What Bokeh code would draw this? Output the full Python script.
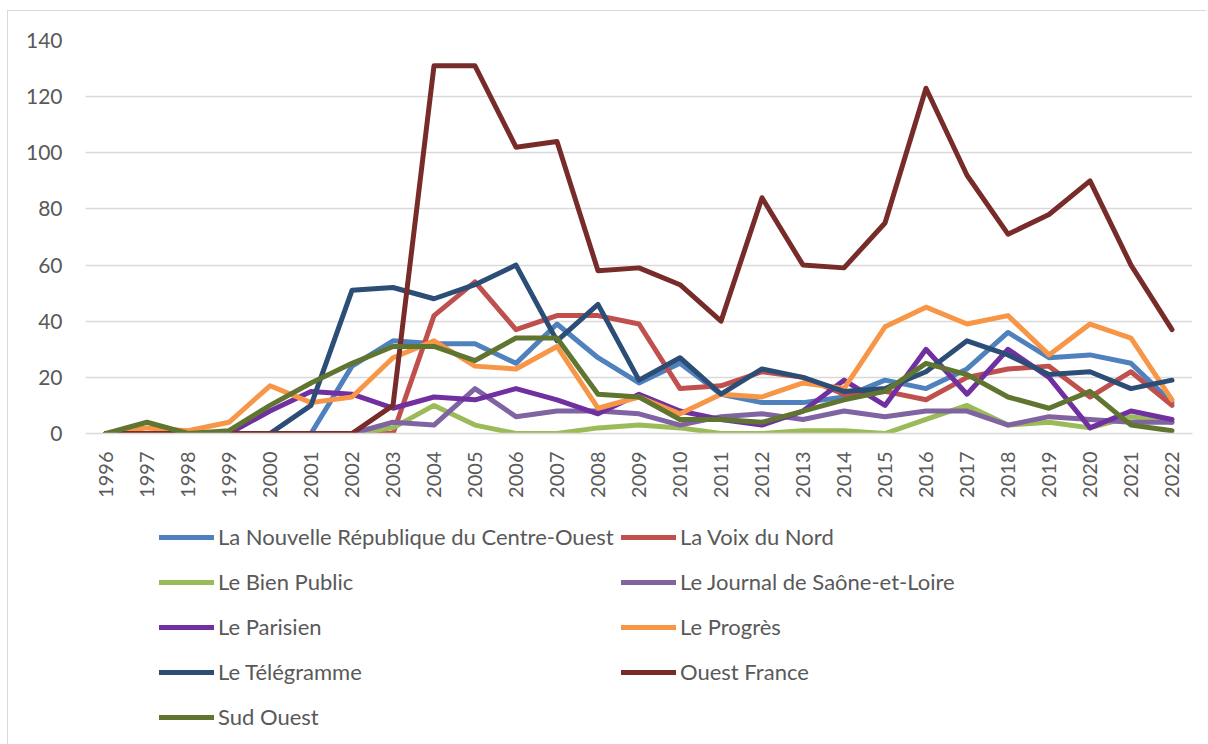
from bokeh.plotting import figure
from bokeh.models import Legend, LegendItem, FixedTicker
from bokeh.layouts import column
from bokeh.embed import file_html
from bokeh.resources import INLINE
import math

years = list(range(1996, 2023))
nouvelle_republique = [0, 0, 0, 0, 0, 0, 24, 33, 32, 32, 25, 39, 27, 18, 25, 14, 11, 11, 13, 19, 16, 23, 36, 27, 28, 25, 11]
voix_du_nord = [0, 0, 0, 0, 0, 0, 0, 0, 42, 54, 37, 42, 42, 39, 16, 17, 22, 20, 14, 15, 12, 20, 23, 24, 13, 22, 10]
bien_public = [0, 0, 0, 0, 0, 0, 0, 2, 10, 3, 0, 0, 2, 3, 2, 0, 0, 1, 1, 0, 5, 10, 3, 4, 2, 6, 4]
journal_sl = [0, 0, 0, 0, 0, 0, 0, 4, 3, 16, 6, 8, 8, 7, 3, 6, 7, 5, 8, 6, 8, 8, 3, 6, 5, 4, 4]
parisien = [0, 0, 0, 0, 8, 15, 14, 9, 13, 12, 16, 12, 7, 14, 8, 5, 3, 8, 19, 10, 30, 14, 30, 20, 2, 8, 5]
progres = [0, 2, 1, 4, 17, 11, 13, 27, 33, 24, 23, 31, 9, 13, 7, 14, 13, 18, 16, 38, 45, 39, 42, 28, 39, 34, 12]
telegramme = [0, 0, 0, 0, 0, 10, 51, 52, 48, 53, 60, 33, 46, 19, 27, 14, 23, 20, 15, 16, 22, 33, 28, 21, 22, 16, 19]
ouest_france = [0, 0, 0, 0, 0, 0, 0, 10, 131, 131, 102, 104, 58, 59, 53, 40, 84, 60, 59, 75, 123, 92, 71, 78, 90, 60, 37]
sud_ouest = [0, 4, 0, 1, 10, 18, 25, 31, 31, 26, 34, 34, 14, 13, 5, 5, 4, 8, 12, 15, 25, 21, 13, 9, 15, 3, 1]

series_names = ["La Nouvelle République du Centre-Ouest", "La Voix du Nord", "Le Bien Public",
                "Le Journal de Saône-et-Loire", "Le Parisien", "Le Progrès", "Le Télégramme",
                "Ouest France", "Sud Ouest"]
series_values = [nouvelle_republique, voix_du_nord, bien_public, journal_sl, parisien, progres,
                 telegramme, ouest_france, sud_ouest]
series_colors = ["#4F81BD", "#C0504D", "#9BBB59", "#8064A2", "#7030A0", "#F79646",
                 "#2C4D75", "#772C2A", "#5F7530"]
y_ticks = [0, 20, 40, 60, 80, 100, 120, 140]

FONT = "Lato"
GREY = "#595959"
LW = 5

# main chart
p = figure(width=1198, height=497, x_range=(1995.5, 2022.5), y_range=(0, 140),
           output_backend="svg", toolbar_location=None,
           min_border_left=77, min_border_right=14, min_border_top=29, min_border_bottom=75)
p.outline_line_color = None
p.background_fill_color = "white"
p.border_fill_color = "white"

p.xgrid.grid_line_color = None
p.ygrid.grid_line_color = "#d9d9d9"
p.ygrid.grid_line_width = 1.3

p.yaxis.ticker = FixedTicker(ticks=y_ticks)
p.yaxis.axis_line_color = None
p.yaxis.major_tick_line_color = None
p.yaxis.minor_tick_line_color = None
p.yaxis.major_tick_out = 0
p.yaxis.major_label_standoff = 23
p.yaxis.major_label_text_font = FONT
p.yaxis.major_label_text_font_size = "21px"
p.yaxis.major_label_text_color = GREY

p.xaxis.ticker = FixedTicker(ticks=years)
p.xaxis.axis_line_color = "#d9d9d9"
p.xaxis.axis_line_width = 1.3
p.xaxis.major_tick_line_color = None
p.xaxis.minor_tick_line_color = None
p.xaxis.major_tick_out = 0
p.xaxis.major_label_orientation = math.pi / 2
p.xaxis.major_label_standoff = 18
p.xaxis.major_label_text_font = FONT
p.xaxis.major_label_text_font_size = "20px"
p.xaxis.major_label_text_color = GREY

for vals, col in zip(series_values, series_colors):
    p.line(years, vals, line_color=col, line_width=LW, line_join="round", line_cap="round")

# legend strip (its lines lie outside its ranges; only the legend shows)
q = figure(width=1198, height=236, x_range=(0, 1), y_range=(0, 1),
           output_backend="svg", toolbar_location=None,
           min_border_left=0, min_border_right=0, min_border_top=0, min_border_bottom=0)
q.axis.visible = False
q.grid.visible = False
q.outline_line_color = None
q.border_fill_color = "white"

items = []
for name, vals, col in zip(series_names, series_values, series_colors):
    r = q.line(years, vals, line_color=col, line_width=LW, line_cap="round")
    items.append(LegendItem(label=name, renderers=[r]))

legend_style = dict(orientation="vertical", border_line_color=None, background_fill_alpha=0,
                    padding=0, margin=0, glyph_width=55, glyph_height=20, label_height=20,
                    spacing=18, label_standoff=4, label_text_font=FONT,
                    label_text_font_size="22px", label_text_color=GREY, click_policy="none")
left_legend = Legend(items=items[0::2], location=(74, 14), **legend_style)
right_legend = Legend(items=items[1::2], location=(536, 59), **legend_style)
q.add_layout(left_legend)
q.add_layout(right_legend)

layout = column(p, q, spacing=0)
layout.styles = {"margin-left": "7px", "margin-top": "10px",
                 "border-left": "1px solid #d9d9d9", "border-top": "1px solid #d9d9d9"}

open("out.html", "w").write(file_html(layout, INLINE))
